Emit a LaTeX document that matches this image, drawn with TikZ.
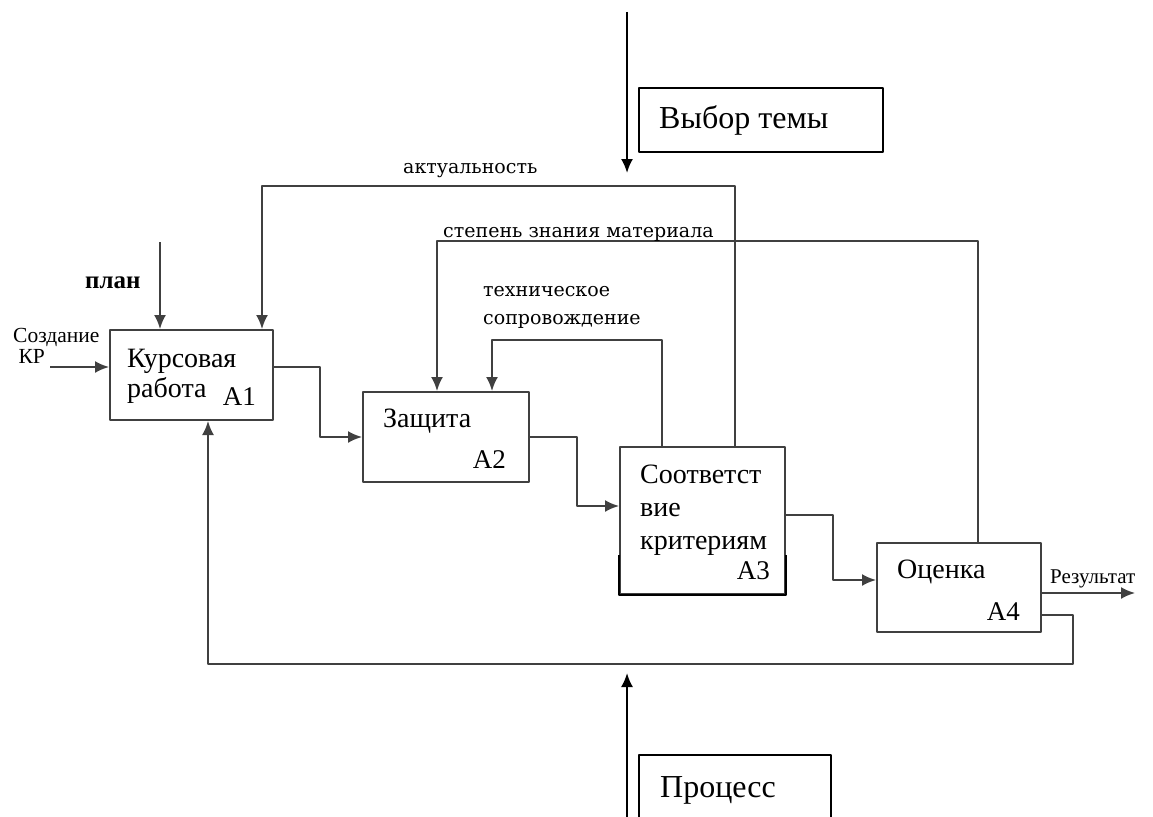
\documentclass[tikz,border=0pt]{standalone}
\usepackage{fontspec}
\setmainfont{Liberation Serif}
\newfontfamily\podpis{DejaVu Serif}
\usetikzlibrary{arrows.meta}
\begin{document}
\begin{tikzpicture}[x=1pt,y=-1pt, line join=round, >={Latex[length=14pt,width=12pt]},
  blok/.style={draw=black!75, line width=2pt, inner sep=0pt},
  svyaz/.style={draw=black!75, line width=2pt},
  ramka/.style={draw=black, line width=1.6pt, inner sep=0pt},
  tekst/.style={font=\fontsize{28}{33}\selectfont, inner sep=0pt, align=left},
  nomer/.style={font=\fontsize{27}{30}\selectfont, inner sep=0pt},
  metka/.style={font=\podpis\fontsize{19}{28}\selectfont, inner sep=0pt, align=left}]
\useasboundingbox (0,0) rectangle (1153,816);
% блоки
\node[blok, minimum width=163pt, minimum height=90pt] (A1) at (191.5,375) {};
\node[blok, minimum width=166pt, minimum height=90pt] (A2) at (446,437) {};
\node[blok, minimum width=165pt, minimum height=147pt] (A3) at (702.5,520.5) {};
\node[blok, minimum width=164pt, minimum height=89pt] (A4) at (959,587.5) {};
\draw[black, line width=2.4pt] ([yshift=40pt]A3.south west) -- (A3.south west)
  -- (A3.south east) -- ([yshift=40pt]A3.south east);
\node[tekst, anchor=base west, font=\fontsize{28}{30}\selectfont] (t1) at (127,397) {Курсовая\\работа};
\node[tekst, anchor=base west] (t2) at (383,427) {Защита};
\node[tekst, anchor=base west] (t3) at (640,549) {Соответст\\вие\\критериям};
\node[tekst, anchor=base west] (t4) at (897,578) {Оценка};
\node[nomer, anchor=base east] (n1) at (256,405) {A1};
\node[nomer, anchor=base east] (n2) at (506,468) {A2};
\node[nomer, anchor=base east] (n3) at (770,579) {A3};
\node[nomer, anchor=base east] (n4) at (1020,620) {A4};
% рамки
\node[ramka, minimum width=244pt, minimum height=64pt] (V) at (761,120) {};
\node[tekst, anchor=base west, font=\fontsize{32}{34}\selectfont] (tv) at (659,128) {Выбор темы};
\node[ramka, minimum width=192pt, minimum height=80pt] (P) at (735,795) {};
\node[tekst, anchor=base west, font=\fontsize{32}{34}\selectfont] (tp) at (660,797) {Процесс};
% точки
\coordinate (vhod) at (50,367);
\coordinate (plan) at (160,242);
\coordinate (rez) at (1135,593);
\coordinate (akt) at (262,186);
\coordinate (stz) at (437,241);
\coordinate (teh) at (492,340);
\coordinate (vt) at (627,12);
\coordinate (vt2) at (627,173);
\coordinate (pr) at (627,830);
\coordinate (pr2) at (627,673);
% связи
\draw[svyaz,->] (vhod) -- ([yshift=8pt]A1.west);
\draw[svyaz,->] (plan) -- (plan |- A1.north);
\draw[svyaz,->] ([yshift=8pt]A1.east) -- ++(46,0) |- (A2.west);
\draw[svyaz,->] (A2.east) -- ++(47,0) |- ([yshift=14.5pt]A3.west);
\draw[svyaz,->] ([yshift=5.5pt]A3.east) -- ++(47,0) |- ([yshift=7.5pt]A4.west);
\draw[svyaz,->] (A4.east |- rez) -- (rez);
\draw[svyaz,->] ([yshift=-27pt]A4.east) -| ++(31,49) -| ([xshift=16.5pt]A1.south);
\draw[svyaz,->] ([xshift=32.5pt]A3.north) |- (akt) -- (akt |- A1.north);
\draw[svyaz,->] ([xshift=19pt]A4.north) |- (stz) -- (stz |- A2.north);
\draw[svyaz,->] ([xshift=-40.5pt]A3.north) |- (teh) -- (teh |- A2.north);
\draw[black, line width=2pt, ->] (vt) -- (vt2);
\draw[black, line width=2pt, ->] (pr) -- (pr2);
% подписи
\node[tekst, anchor=base west, font=\fontsize{21.5}{21}\selectfont] (m1) at (13,363) {Создание\\\ КР};
\node[tekst, anchor=base west, font=\bfseries\fontsize{25}{26}\selectfont] (m2) at (85,288) {план};
\node[metka, anchor=base west] (m3) at (403,173) {актуальность};
\node[metka, anchor=base west] (m4) at (443,237) {степень знания материала};
\node[metka, anchor=base west] (m5) at (483,324) {техническое\\сопровождение};
\node[tekst, anchor=base west, font=\fontsize{21}{22}\selectfont] (m6) at (1050,583) {Результат};
\end{tikzpicture}
\end{document}
